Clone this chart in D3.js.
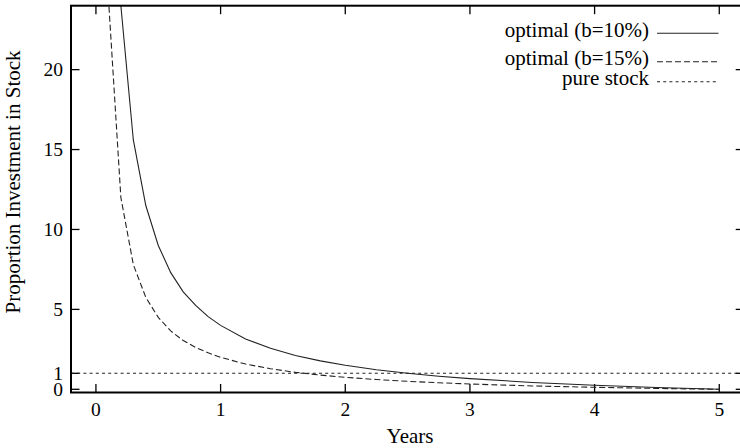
<!DOCTYPE html>
<html>
<head>
<meta charset="utf-8">
<script src="https://cdn.jsdelivr.net/npm/d3@7"></script>
<style>
  body { margin: 0; background: #fff; }
  svg { display: block; }
  text { font-family: "Liberation Serif", "DejaVu Serif", serif; font-size: 21px; fill: #000; }
  text.tick-label { font-size: 19.5px; }
</style>
</head>
<body>
<svg id="chart" width="740" height="448"></svg>
<script>
var years = [0.1, 0.2, 0.3, 0.4, 0.5, 0.6, 0.7, 0.8, 0.9, 1.0, 1.2, 1.4, 1.6, 1.8, 2.0,
             2.25, 2.5, 2.75, 3.0, 3.5, 4.0, 4.5, 5.0];
var optimal10 = [49.0, 24.0, 15.6, 11.5, 9.0, 7.3, 6.1, 5.25, 4.55, 4.0, 3.15, 2.57, 2.12, 1.78, 1.5,
                 1.22, 1.0, 0.82, 0.67, 0.43, 0.25, 0.11, 0];
var optimal15 = [24.5, 12.0, 7.8, 5.75, 4.5, 3.65, 3.05, 2.62, 2.28, 2.0, 1.58, 1.29, 1.06, 0.89, 0.75,
                 0.61, 0.5, 0.41, 0.33, 0.21, 0.125, 0.055, 0];
var pureStockX = [-0.2, 5.2];
var pureStock = [1, 1];

var xTicks = [0, 1, 2, 3, 4, 5],
    yTicks = [0, 1, 5, 10, 15, 20];

var seriesNames = ["optimal (b=10%)", "optimal (b=15%)", "pure stock"],
    dashes = ["none", "6,3", "3,3.2"];

var svg = d3.select("#chart"),
    plotLeft = 71, plotRight = 744.2, plotTop = 5.7, plotBottom = 392.5,
    tickLen = 8.5;

var x = d3.scaleLinear().domain([-0.2, 5.2]).range([plotLeft, plotRight]),
    y = d3.scaleLinear().domain([-0.2, 24]).range([plotBottom, plotTop]);

svg.append("clipPath").attr("id", "plot-clip")
  .append("rect")
    .attr("x", plotLeft).attr("y", plotTop)
    .attr("width", plotRight - plotLeft).attr("height", plotBottom - plotTop);

// ticks pointing inward, mirrored on top/right
var axisG = svg.append("g").attr("stroke", "#000").attr("stroke-width", 1.3);
xTicks.forEach(function(t) {
  axisG.append("line").attr("x1", x(t)).attr("x2", x(t)).attr("y1", plotBottom).attr("y2", plotBottom - tickLen);
  axisG.append("line").attr("x1", x(t)).attr("x2", x(t)).attr("y1", plotTop).attr("y2", plotTop + tickLen);
});
yTicks.forEach(function(t) {
  axisG.append("line").attr("x1", plotLeft).attr("x2", plotLeft + tickLen).attr("y1", y(t)).attr("y2", y(t));
  axisG.append("line").attr("x1", plotRight).attr("x2", plotRight - tickLen).attr("y1", y(t)).attr("y2", y(t));
});

svg.append("g").selectAll("text").data(xTicks).enter().append("text")
    .attr("class", "tick-label")
    .attr("x", function(d) { return x(d); })
    .attr("y", 416)
    .attr("text-anchor", "middle")
    .text(function(d) { return d; });

svg.append("g").selectAll("text").data(yTicks).enter().append("text")
    .attr("class", "tick-label")
    .attr("x", 63)
    .attr("y", function(d) { return y(d); })
    .attr("dy", "0.33em")
    .attr("text-anchor", "end")
    .text(function(d) { return d; });

var line = d3.line()
    .x(function(d) { return x(d[0]); })
    .y(function(d) { return y(d[1]); });

var series = [
  d3.zip(years, optimal10),
  d3.zip(years, optimal15),
  d3.zip(pureStockX, pureStock)
];

svg.append("g").attr("clip-path", "url(#plot-clip)")
  .selectAll("path").data(series).enter().append("path")
    .attr("d", line)
    .attr("fill", "none")
    .attr("stroke", "#222")
    .attr("stroke-width", 1.1)
    .attr("stroke-dasharray", function(d, i) { return dashes[i]; });

// frame
svg.append("rect")
    .attr("x", plotLeft).attr("y", plotTop)
    .attr("width", plotRight - plotLeft).attr("height", plotBottom - plotTop)
    .attr("fill", "none")
    .attr("stroke", "#000")
    .attr("stroke-width", 2);

// legend
var legendY = [33.3, 61.7, 81.7];
var legend = svg.append("g").selectAll("g").data(seriesNames).enter().append("g")
    .attr("transform", function(d, i) { return "translate(0," + legendY[i] + ")"; });
legend.append("text")
    .attr("x", 649)
    .attr("dy", 3.5)
    .attr("text-anchor", "end")
    .text(function(d) { return d; });
legend.append("line")
    .attr("x1", 657).attr("x2", 718.5)
    .attr("stroke", "#222")
    .attr("stroke-width", 1.1)
    .attr("stroke-dasharray", function(d, i) { return dashes[i]; });

svg.append("text")
    .attr("x", 410)
    .attr("y", 443)
    .attr("text-anchor", "middle")
    .text("Years");

svg.append("text")
    .attr("transform", "translate(20,182) rotate(-90)")
    .attr("text-anchor", "middle")
    .text("Proportion Investment in Stock");
</script>
</body>
</html>
